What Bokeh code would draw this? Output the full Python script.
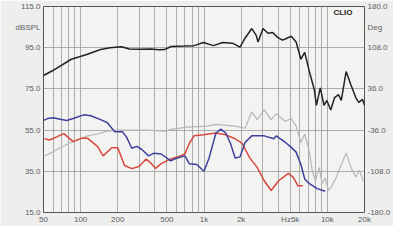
from bokeh.plotting import figure
from bokeh.models import Range1d, FixedTicker, Label, LinearAxis
from bokeh.embed import file_html
from bokeh.resources import INLINE

# ---- data ----
black_f = [50, 59, 84, 112, 145, 173, 215, 248, 300, 375, 430, 480, 540, 700, 830, 990, 1190, 1420,
           1700, 1960, 2150, 2440, 2650, 2740, 3010, 3300, 3600, 3950, 4320, 4570, 5100, 5580, 6100,
           6550, 7150, 7850, 8150, 8760, 9400, 9900, 10650, 11440, 12300, 12970, 14190, 15530, 16990,
           17950, 19300, 20000]
black_db = [81.5, 83.8, 89.4, 91.7, 94.1, 95.0, 95.5, 94.4, 94.2, 94.4, 94.0, 94.1, 95.6, 95.8, 96.0,
            97.5, 96.0, 97.5, 97.2, 95.3, 99.6, 104.3, 101.0, 97.8, 104.3, 102.0, 102.4, 100.0, 98.7,
            99.2, 100.6, 97.8, 89.4, 92.7, 83.4, 74.5, 67.0, 75.5, 67.0, 69.4, 64.8, 70.8, 72.2, 69.4,
            83.4, 76.9, 70.8, 68.5, 69.9, 67.0]

red_f = [51, 56, 64, 73, 87, 101, 114, 137, 152, 179, 200, 227, 260, 297, 340, 375, 405, 450, 537,
         645, 700, 760, 830, 990, 1250, 1500, 1790, 2040, 2350, 2700, 3080, 3500, 4030, 4400, 4820,
         5280, 5770, 6320]
red_db = [50.8, 50.2, 51.7, 53.3, 49.4, 51.0, 51.0, 47.1, 42.5, 46.4, 46.4, 37.8, 36.3, 37.3, 41.0,
          38.7, 36.4, 38.7, 41.0, 42.5, 43.4, 48.5, 52.2, 52.7, 53.6, 52.7, 50.8, 48.5, 41.5, 36.9,
          30.4, 25.7, 30.4, 32.2, 34.0, 32.2, 28.0, 28.0]

blue_f = [50, 54, 60, 70, 77, 87, 106, 121, 145, 164, 189, 218, 235, 260, 285, 312, 355, 395, 450,
          537, 609, 700, 760, 873, 1000, 1100, 1250, 1370, 1500, 1640, 1790, 1960, 2150, 2440, 3080,
          3680, 3850, 4570, 5100, 5580, 6100, 6550, 7150, 8270, 9600]
blue_db = [59.7, 60.6, 61.0, 60.1, 59.7, 60.6, 62.4, 62.0, 60.1, 58.7, 54.2, 54.2, 51.7, 46.2, 47.1,
           45.7, 42.5, 43.8, 43.4, 40.1, 41.5, 42.5, 38.7, 38.3, 35.0, 41.5, 53.6, 55.5, 53.6, 48.5,
           41.5, 42.0, 49.0, 52.2, 52.2, 50.8, 52.2, 49.0, 46.6, 44.3, 38.3, 31.3, 29.0, 26.6, 25.3]

gray_f = [51, 59, 67, 80, 95, 114, 137, 164, 196, 248, 340, 480, 557, 730, 1046, 1250, 1790, 2150,
          2440, 2700, 3080, 3500, 3850, 4570, 5100, 5580, 6100, 6550, 7150, 7560, 8000, 8600, 9050,
          9600, 10200, 10800, 11850, 12970, 14190, 15530, 16990, 18200, 19500]
gray_db = [42.4, 44.3, 46.2, 48.5, 50.4, 52.2, 53.1, 54.5, 55.0, 55.0, 55.0, 54.5, 55.5, 56.4, 56.9,
           57.8, 56.9, 55.9, 63.8, 60.1, 64.8, 60.1, 62.9, 59.2, 60.6, 56.9, 49.0, 53.1, 44.3, 35.0,
           30.4, 36.9, 29.0, 31.7, 25.7, 27.6, 32.2, 38.3, 43.8, 36.9, 32.2, 35.5, 30.4]

x_ticks = [50, 100, 200, 500, 1000, 2000, 5000, 10000, 20000]
x_tick_labels = ["50", "100", "200", "500", "1k", "2k", "Hz5k", "10k", "20k"]
x_grid = [50, 60, 70, 80, 90, 100, 200, 300, 400, 500, 600, 700, 800, 900, 1000, 2000, 3000,
          4000, 5000, 6000, 7000, 8000, 9000, 10000, 20000]
db_ticks = [15, 35, 55, 75, 95, 115]
deg_ticks = [-180, -108, -36, 36, 108, 180]
unit_db = "dBSPL"
unit_deg = "Deg"

FONT = "Liberation Sans"
TXT = "#5c5c68"

p = figure(width=393, height=226, output_backend="svg", toolbar_location=None,
           x_axis_type="log", x_range=Range1d(50, 20000), y_range=Range1d(15, 115),
           min_border_left=43, min_border_right=4, min_border_top=6, min_border_bottom=12)
p.background_fill_color = "#f3f3f2"
p.border_fill_color = "#eeeeec"
p.outline_line_color = "#555555"
p.outline_line_width = 1

p.extra_y_ranges = {"deg": Range1d(-180, 180)}

# grids
p.xgrid.ticker = FixedTicker(ticks=x_grid)
p.ygrid.ticker = FixedTicker(ticks=db_ticks)
p.xgrid.grid_line_color = "#9a9a9a"
p.ygrid.grid_line_color = "#9a9a9a"
p.xgrid.grid_line_width = 0.8
p.ygrid.grid_line_width = 0.8

# x axis
xa = p.xaxis[0]
xa.ticker = FixedTicker(ticks=x_ticks)
xa.major_label_overrides = {t: l for t, l in zip(x_ticks, x_tick_labels)}

# left axis (unit name shown between the two top labels)
ya = p.yaxis[0]
ya.ticker = FixedTicker(ticks=db_ticks + [105])
ov = {t: f"{t:.1f}" for t in db_ticks}
ov[105] = unit_db
ya.major_label_overrides = ov

# right phase axis
ra = LinearAxis(y_range_name="deg", ticker=FixedTicker(ticks=deg_ticks + [144]))
ov2 = {t: f"{t:.1f}" for t in deg_ticks}
ov2[144] = unit_deg
ra.major_label_overrides = ov2
p.add_layout(ra, "right")

for ax in [xa, ya, ra]:
    ax.axis_line_color = None
    ax.major_tick_line_color = None
    ax.minor_tick_line_color = None
    ax.major_tick_out = 0
    ax.major_tick_in = 0
    ax.minor_tick_out = 0
    ax.minor_tick_in = 0
    ax.major_label_text_font = FONT
    ax.major_label_text_font_size = "8px"
    ax.major_label_text_color = TXT
    ax.major_label_standoff = 3
xa.major_label_standoff = 2

# curves
p.line(gray_f, gray_db, line_color="#b9b6b6", line_width=1.2)
p.line(red_f, red_db, line_color="#d8483c", line_width=1.5)
p.line(blue_f, blue_db, line_color="#3f3f9c", line_width=1.5)
p.line(black_f, black_db, line_color="#222222", line_width=1.5)

# brand mark inside the plot
p.add_layout(Label(x=16000, y=112.0, text="CLIO", text_align="right", text_baseline="middle",
                   text_font=FONT, text_font_size="8px", text_font_style="bold", text_color="#222222"))

open("out.html", "w").write(file_html(p, INLINE))
